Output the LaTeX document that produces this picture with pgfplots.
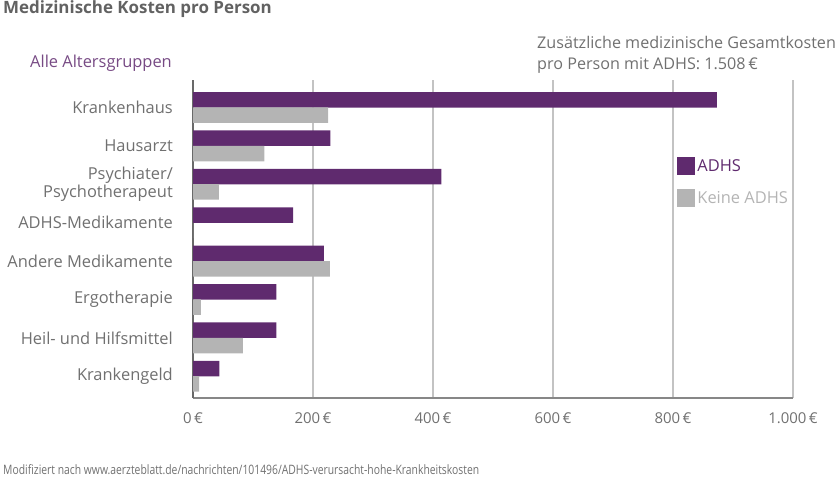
\documentclass[border=0pt]{standalone}
\usepackage{fontspec}
\setmainfont{Open Sans}
\newfontfamily\condfont[FakeStretch=0.8]{Open Sans}
\usepackage{pgfplots}
\usepackage{pgfplotstable}
\pgfplotsset{compat=1.18}

\definecolor{adhs}{RGB}{95,42,110}
\definecolor{keine}{RGB}{180,180,180}
\definecolor{txt}{RGB}{112,112,112}
\definecolor{gridc}{RGB}{195,195,195}
\definecolor{axln}{RGB}{105,105,105}

% pos: 7 = Krankenhaus (top) ... 0 = Krankengeld (bottom)
\pgfplotstableread{
pos adhs keine
7   873  225
6   229  119
5   414  43
4   167  0
3   218  228
2   139  13
1   139  83
0   44   10
}\kosten

\begin{document}
\begin{tikzpicture}[x=1bp,y=1bp]
\path[use as bounding box] (0,0) rectangle (840,480);

\begin{axis}[
    at={(193bp,82bp)}, anchor=south west,
    scale only axis,
    width=600bp, height=318bp,
    xmin=0, xmax=1000,
    ymin=-0.565, ymax=7.716,
    xbar, bar width=15.5bp, bar shift=0pt,
    xtick={0,200,...,1000},
    xticklabels={0\,€,200\,€,400\,€,600\,€,800\,€,1.000\,€},
    ytick={0,...,7},
    yticklabels={Krankengeld,Heil- und Hilfsmittel,Ergotherapie,Andere Medikamente,ADHS-Medikamente,{Psychiater/\\Psychotherapeut},Hausarzt,Krankenhaus},
    yticklabel style={align=right, inner sep=0pt, xshift=-20bp, font=\fontsize{16.5}{18}\selectfont, text=txt},
    xticklabel style={inner sep=0pt, yshift=-14bp, font=\fontsize{15}{18}\selectfont, text=txt},
    major tick length=0pt,
    xmajorgrids,
    major grid style={draw=gridc, line width=1.2bp},
    axis x line*=bottom, axis y line*=left,
    x axis line style={draw=axln!80, line width=2.2bp, -},
    y axis line style={draw=axln, line width=2bp, -},
    legend style={
        at={(0.807,0.758)}, anchor=north west,
        draw=none, fill=none, inner sep=0pt,
        row sep=14bp,
        font=\fontsize{16.5}{18}\selectfont,
        legend cell align=left,
    },
    legend image code/.code={\fill[#1] (0bp,-9bp) rectangle (18bp,9bp);},
]
\addplot[draw=none, fill=adhs] table[x=adhs, y expr=\thisrow{pos}+0.2] {\kosten};
\addlegendentry{\textcolor{adhs}{ADHS}}
\addplot[draw=none, fill=keine] table[x=keine, y expr=\thisrow{pos}-0.2] {\kosten};
\addlegendentry{\textcolor{keine}{Keine ADHS}}
\end{axis}

\node[anchor=base west, inner sep=0pt, text=txt!110, font=\fontsize{17}{20}\selectfont\bfseries] at (3,466) {Medizinische Kosten pro Person};
\node[anchor=base west, inner sep=0pt, text=adhs!85, font=\fontsize{16.5}{18}\selectfont] at (30,412) {Alle Altersgruppen};
\node[anchor=base west, inner sep=0pt, text=txt, font=\fontsize{16.2}{18}\selectfont] at (537,431) {Zusätzliche medizinische Gesamtkosten};
\node[anchor=base west, inner sep=0pt, text=txt, font=\fontsize{16.2}{18}\selectfont] at (537,410) {pro Person mit ADHS: 1.508\,€};
\node[anchor=base west, inner sep=0pt, text=txt, font=\condfont\fontsize{13}{15}\selectfont] at (3,5) {Modifiziert nach www.aerzteblatt.de/nachrichten/101496/ADHS-verursacht-hohe-Krankheitskosten};
\end{tikzpicture}
\end{document}
